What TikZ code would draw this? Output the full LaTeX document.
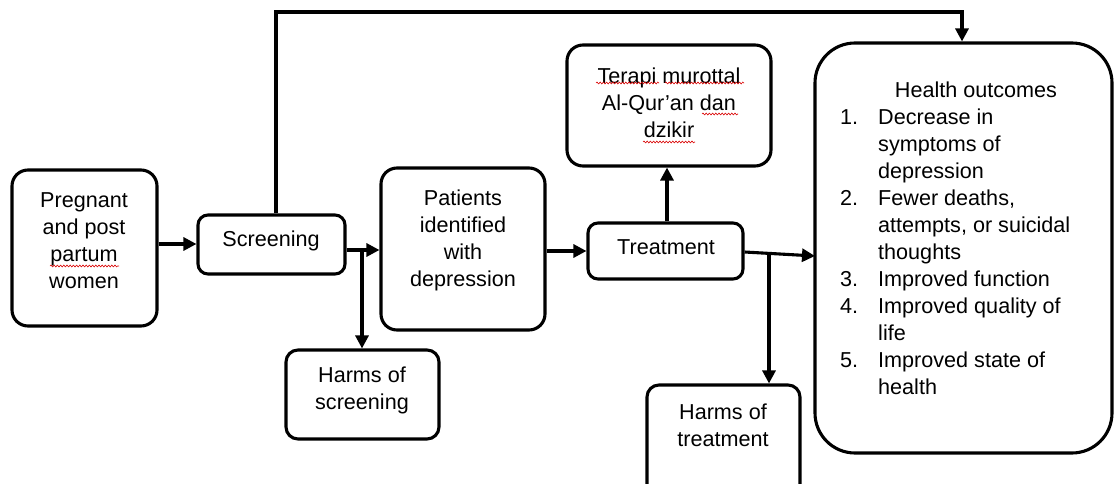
\documentclass[tikz,border=0pt]{standalone}
\usepackage{fontspec}
\setmainfont{Liberation Sans}
\usetikzlibrary{arrows.meta,decorations.pathmorphing}
\begin{document}
\begin{tikzpicture}[x=1pt,y=-1pt,
  box/.style={draw,line width=3.1pt,rounded corners=#1,inner sep=0pt},
  box/.default=14pt,
  txt/.style={align=center,font=\fontsize{21.6}{27}\selectfont,inner sep=0pt},
  arr/.style={line width=3.1pt,-{Triangle[length=13pt,width=13pt]}},
  squig/.style={red!85!black,line width=0.6pt,decorate,decoration={snake,amplitude=0.9pt,segment length=3.2pt}}
]
\useasboundingbox (0,0) rectangle (1114,484);
\clip (0,0) rectangle (1114,484);

% boxes
\node[box=16pt, minimum width=145pt, minimum height=156pt] (preg) at (84.5,248) {};
\node[box=10pt, minimum width=147pt, minimum height=59pt] (scr) at (271.5,244.5) {};
\node[box=16pt, minimum width=164pt, minimum height=162pt] (pat) at (463,249) {};
\node[box=12pt, minimum width=153pt, minimum height=89pt] (hs) at (362.5,394.5) {};
\node[box=10pt, minimum width=155pt, minimum height=56pt] (trt) at (665.5,251) {};
\node[box=16pt, minimum width=204pt, minimum height=121pt] (ter) at (669,105.5) {};
\node[box=12pt, minimum width=153pt, minimum height=114pt] (ht) at (723.5,442) {};
\node[box=40pt, minimum width=297pt, minimum height=410pt] (hl) at (963.5,248) {};

% texts
\node[txt] (pregt) at (84,241) {Pregnant\\and post\\partum\\women};
\node[txt] (scrt) at (271,241) {Screening};
\node[txt] (patt) at (463,240) {Patients\\identified\\with\\depression};
\node[txt] (hst) at (362,390) {Harms of\\screening};
\node[txt] (trtt) at (666,247) {Treatment};
\node[txt] (tert) at (669,103) {Terapi murottal\\Al-Qur’an dan\\dzikir};
\node[txt] (htt) at (723,425) {Harms of\\treatment};
\node[txt] (hlt) at (976,90) {Health outcomes};
\node[anchor=north west, inner sep=0pt, font=\fontsize{21.6}{27}\selectfont] (list) at (840,105) {%
\begin{tabular}{@{}p{38pt}@{}l@{}}
1. & Decrease in\\
   & symptoms of\\
   & depression\\
2. & Fewer deaths,\\
   & attempts, or suicidal\\
   & thoughts\\
3. & Improved function\\
4. & Improved quality of\\
   & life\\
5. & Improved state of\\
   & health
\end{tabular}};

% spell-check squiggles
\draw[squig] (596,83) -- (659,83);
\draw[squig] (665,83) -- (744,83);
\draw[squig] (702,114) -- (738,114);
\draw[squig] (643,142) -- (695,142);
\draw[squig] (50,266) -- (119,266);

% connectors
\coordinate (topr) at (962,12);
\coordinate (b1) at (362,250);
\coordinate (b2) at (769,253);
\coordinate (hin) at (815,256);

\draw[arr] ([yshift=4pt]preg.east) -- ([yshift=4pt]preg.east -| scr.west);
\draw[arr] ([xshift=4.5pt]scr.north) |- (topr) -- (topr |- hl.north);
\draw[arr] ([yshift=-5.5pt]scr.east) -- ([yshift=-5.5pt]scr.east -| pat.west);
\draw[arr] (b1) -- (b1 |- hs.north);
\draw[arr] (pat.east |- trt.west) -- (trt.west);
\draw[arr] ([xshift=1.5pt]trt.north) -- ([xshift=1.5pt]trt.north |- ter.south);
\draw[arr] ([yshift=-1pt]trt.east) -- (hin);
\draw[arr] (b2) -- (b2 |- ht.north);
\end{tikzpicture}
\end{document}
